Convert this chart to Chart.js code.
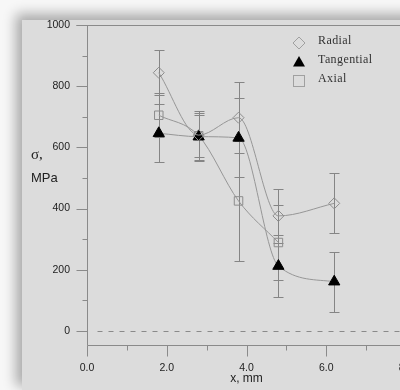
<!DOCTYPE html>
<html>
<head>
<meta charset="utf-8">
<script src="https://cdn.jsdelivr.net/npm/chart.js@4/dist/chart.umd.min.js"></script>
<style>
  html, body { margin: 0; padding: 0; width: 400px; height: 390px; overflow: hidden; background: #f7f7f7; }
  #panel { position: absolute; left: 22px; top: 20px; width: 420px; height: 372px; background: #dcdcdc;
           box-shadow: -6px -6px 12px rgba(0, 0, 0, 0.32); }
  #chart { position: absolute; left: 0; top: 0; }
</style>
</head>
<body>
<div id="panel"></div>
<canvas id="chart" width="440" height="390"></canvas>
<script>
// Measurement positions (mm from the surface)
const positions = [1.8, 2.8, 3.8, 4.8, 6.2];

// Residual stress components, MPa, with their scatter (±)
const radial = [844, 640, 697, 376, 417];
const radialErr = [73, 80, 117, 88, 98];
const tangential = [646, 635, 631, 212, 161];
const tangentialErr = [95, 78, 129, 100, 98];
const axial = [705, 638, 425, 289, null];
const axialErr = [72, 68, 195, 121, null];

// Axis ticks
const xTicks = [0, 1, 2, 3, 4, 5, 6, 7, 8];
const yTicks = [0, 100, 200, 300, 400, 500, 600, 700, 800, 900, 1000];

const seriesNames = ['Radial', 'Tangential', 'Axial'];

const AXIS = '#8a8a8a';
const CURVE = '#969696';
const MARK = '#8c8c8c';
const ERR = '#858585';

function pts(vals) {
  return positions.map((x, i) => ({ x: x, y: vals[i] }));
}

function seg(ctx, x1, y1, x2, y2) {
  ctx.beginPath();
  ctx.moveTo(x1, y1);
  ctx.lineTo(x2, y2);
  ctx.stroke();
}

const errors = [radialErr, tangentialErr, axialErr];
const values = [radial, tangential, axial];

// Axes frame, tick marks, zero line and error bars
const framePlugin = {
  id: 'frame',
  beforeDatasetsDraw(chart) {
    const { ctx, chartArea: a, scales: { x, y } } = chart;
    ctx.save();
    ctx.lineWidth = 1;
    ctx.strokeStyle = AXIS;
    const L = Math.round(a.left) + 0.5;
    const B = Math.round(a.bottom) + 0.5;
    const T = Math.round(a.top) + 0.5;
    // axis lines
    seg(ctx, L, T, L, B);
    seg(ctx, L, B, a.right, B);
    seg(ctx, L - 11, T, a.right, T);
    // y tick marks
    yTicks.forEach(v => {
      const py = Math.round(y.getPixelForValue(v)) + 0.5;
      const len = v % 200 === 0 ? 11 : 5;
      seg(ctx, L - len, py, L, py);
    });
    // x tick marks
    xTicks.forEach(v => {
      const px = Math.round(x.getPixelForValue(v)) + 0.5;
      const len = v % 2 === 0 ? 11 : 5;
      seg(ctx, px, B, px, B + len);
    });
    // zero reference line
    const z = Math.round(y.getPixelForValue(0)) + 0.5;
    ctx.setLineDash([5, 6]);
    seg(ctx, L + 10, z, a.right, z);
    ctx.setLineDash([]);
    // error bars
    ctx.strokeStyle = ERR;
    values.forEach((vals, s) => {
      vals.forEach((v, i) => {
        if (v == null) return;
        const e = errors[s][i];
        const px = Math.round(x.getPixelForValue(positions[i])) + 0.5;
        const hi = Math.round(y.getPixelForValue(v + e)) + 0.5;
        const lo = Math.round(y.getPixelForValue(v - e)) + 0.5;
        seg(ctx, px, hi, px, lo);
        seg(ctx, px - 5, hi, px + 5, hi);
        seg(ctx, px - 5, lo, px + 5, lo);
      });
    });
    ctx.restore();
  },
  afterDraw(chart) {
    const ctx = chart.ctx;
    ctx.save();
    // y-axis caption
    ctx.fillStyle = '#222';
    ctx.textAlign = 'left';
    ctx.textBaseline = 'alphabetic';
    ctx.font = '15px "Liberation Serif"';
    ctx.fillText('σ,', 31, 159);
    ctx.font = '13px "Liberation Sans"';
    ctx.fillText('MPa', 31, 182);

    // legend
    const mx = 299, tx = 318;
    const rows = [43, 62, 81];
    ctx.lineWidth = 1;
    // diamond
    ctx.strokeStyle = '#a0a0a0';
    ctx.beginPath();
    ctx.moveTo(mx, rows[0] - 6); ctx.lineTo(mx + 6, rows[0]);
    ctx.lineTo(mx, rows[0] + 6); ctx.lineTo(mx - 6, rows[0]);
    ctx.closePath(); ctx.stroke();
    // triangle
    ctx.fillStyle = '#000';
    ctx.beginPath();
    ctx.moveTo(mx, rows[1] - 6); ctx.lineTo(mx + 6, rows[1] + 4.5); ctx.lineTo(mx - 6, rows[1] + 4.5);
    ctx.closePath(); ctx.fill();
    // square
    ctx.strokeStyle = '#a0a0a0';
    ctx.strokeRect(mx - 5.5, rows[2] - 5.5, 11, 11);

    ctx.fillStyle = '#333';
    ctx.font = '12px "Liberation Serif"';
    ctx.letterSpacing = '0.4px';
    ctx.textBaseline = 'middle';
    seriesNames.forEach((n, i) => ctx.fillText(n, tx, rows[i] - 2));
    ctx.restore();
  }
};

new Chart(document.getElementById('chart'), {
  type: 'line',
  data: {
    datasets: [
      {
        label: seriesNames[0], data: pts(radial),
        borderColor: CURVE, borderWidth: 1, cubicInterpolationMode: 'monotone',
        pointStyle: 'rectRot', pointRadius: 5.5, pointBorderColor: MARK, pointBorderWidth: 1,
        pointBackgroundColor: 'rgba(0,0,0,0)'
      },
      {
        label: seriesNames[1], data: pts(tangential),
        borderColor: CURVE, borderWidth: 1, cubicInterpolationMode: 'monotone',
        pointStyle: 'triangle', pointRadius: 6.5, pointBorderColor: '#000', pointBorderWidth: 1,
        pointBackgroundColor: '#000'
      },
      {
        label: seriesNames[2], data: pts(axial),
        borderColor: CURVE, borderWidth: 1, cubicInterpolationMode: 'monotone',
        pointStyle: 'rect', pointRadius: 6, pointBorderColor: MARK, pointBorderWidth: 1,
        pointBackgroundColor: 'rgba(0,0,0,0)'
      }
    ]
  },
  options: {
    responsive: false,
    animation: false,
    layout: { padding: { top: 25, right: 34, left: 0, bottom: 0 } },
    plugins: { legend: { display: false }, tooltip: { enabled: false } },
    scales: {
      x: {
        type: 'linear', min: 0, max: 8,
        afterBuildTicks: s => { s.ticks = xTicks.map(v => ({ value: v })); },
        afterFit: s => { s.height = 45; },
        grid: { display: false, drawTicks: false },
        border: { display: false },
        ticks: {
          padding: 17, color: '#222', maxRotation: 0, autoSkip: false,
          font: { family: 'Liberation Sans', size: 10.5 },
          callback: v => (v % 2 === 0 ? v.toFixed(1) : '')
        },
        title: {
          display: true, text: 'x, mm', color: '#222',
          font: { family: 'Liberation Sans', size: 12 },
          padding: { top: 0, bottom: 4 }
        }
      },
      y: {
        type: 'linear', min: -46, max: 1000,
        afterBuildTicks: s => { s.ticks = yTicks.map(v => ({ value: v })); },
        afterFit: s => { s.width = 87; },
        grid: { display: false, drawTicks: false },
        border: { display: false },
        ticks: {
          padding: 17, color: '#222', autoSkip: false,
          font: { family: 'Liberation Sans', size: 10.5 },
          callback: v => (v % 200 === 0 ? String(v) : '')
        }
      }
    }
  },
  plugins: [framePlugin]
});
</script>
</body>
</html>
